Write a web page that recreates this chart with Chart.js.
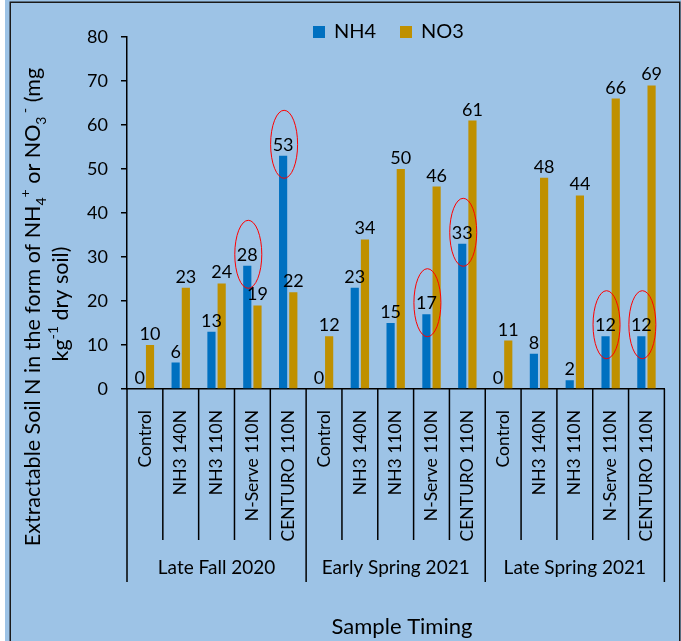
<!DOCTYPE html>
<html>
<head>
<meta charset="utf-8">
<script src="https://cdn.jsdelivr.net/npm/chart.js"></script>
<style>
  html, body { margin: 0; padding: 0; background: #ffffff; }
  canvas { display: block; }
</style>
</head>
<body>
<canvas id="chart" width="681" height="641"></canvas>
<script>
// Treatments repeated within each sampling time
const treatments = ['Control', 'NH3 140N', 'NH3 110N', 'N-Serve 110N', 'CENTURO 110N'];
const timings = ['Late Fall 2020', 'Early Spring 2021', 'Late Spring 2021'];

// Extractable soil N (mg kg-1 dry soil)
const nh4 = [0, 6, 13, 28, 53, 0, 23, 15, 17, 33, 0, 8, 2, 12, 12];
const no3 = [10, 23, 24, 19, 22, 12, 34, 50, 46, 61, 11, 48, 44, 66, 69];

// NH4 bars whose labels are ringed in red
const circledNh4 = [3, 4, 8, 9, 13, 14];

// Value axis ticks
const yTicks = [0, 10, 20, 30, 40, 50, 60, 70, 80];

const seriesNames = ['NH4', 'NO3'];
const seriesColors = ['#0070C0', '#BF9000'];

const FONT = 'Lato, "Open Sans", "DejaVu Sans", sans-serif';
const BG = '#9DC3E6';
const INK = '#000000';

const labels = timings.flatMap(() => treatments);

// Sheet background, white margin strip and outer frame
const frame = {
  id: 'frame',
  beforeDraw(chart) {
    const ctx = chart.ctx;
    ctx.save();
    ctx.fillStyle = BG;
    ctx.fillRect(0, 0, chart.width, chart.height);
    ctx.fillStyle = '#ffffff';
    ctx.fillRect(0, 0, 5, chart.height);
    ctx.strokeStyle = '#1a1a1a';
    ctx.lineWidth = 1.5;
    ctx.strokeRect(10.25, 2.25, 669.5, chart.height + 20);
    ctx.restore();
  }
};

// Draws a run of text with sub/superscript pieces, rotated for the value axis
function drawRich(ctx, parts, cx, cy, size) {
  const small = Math.round(size * 0.65);
  const widths = parts.map(([t, k]) => {
    ctx.font = (k ? small : size) + 'px ' + FONT;
    return ctx.measureText(t).width;
  });
  const total = widths.reduce((a, b) => a + b, 0);
  ctx.save();
  ctx.translate(cx, cy);
  ctx.rotate(-Math.PI / 2);
  ctx.textBaseline = 'alphabetic';
  ctx.textAlign = 'left';
  ctx.fillStyle = INK;
  let x = -total / 2;
  const base = size * 0.35;
  parts.forEach(([t, k], i) => {
    ctx.font = (k ? small : size) + 'px ' + FONT;
    let dy = 0;
    if (k === 'sub') dy = size * 0.3;
    if (k === 'sup') dy = -size * 0.45;
    ctx.fillText(t, x, base + dy);
    x += widths[i];
  });
  ctx.restore();
}

const decorations = {
  id: 'decorations',
  afterDraw(chart) {
    const ctx = chart.ctx;
    const xs = chart.scales.x;
    const n = labels.length;
    const step = (xs.right - xs.left) / n;
    const axisY = xs.top;

    ctx.save();
    // Category and group dividers below the axis
    ctx.strokeStyle = INK;
    ctx.lineWidth = 1.5;
    for (let i = 0; i <= n; i++) {
      const x = xs.left + i * step;
      const isGroup = i % treatments.length === 0;
      ctx.beginPath();
      ctx.moveTo(x, axisY);
      ctx.lineTo(x, isGroup ? 582 : 540);
      ctx.stroke();
    }

    // Group labels
    ctx.fillStyle = INK;
    ctx.font = '19px ' + FONT;
    ctx.textAlign = 'center';
    ctx.textBaseline = 'middle';
    timings.forEach((t, g) => {
      const a = xs.getPixelForValue(g * treatments.length);
      const b = xs.getPixelForValue(g * treatments.length + treatments.length - 1);
      ctx.fillText(t, (a + b) / 2, 568);
    });

    // Axis titles
    ctx.font = '22px ' + FONT;
    ctx.fillText('Sample Timing', 402, 627);
    drawRich(ctx, [
      ['Extractable Soil N in the form of NH', ''], ['4', 'sub'], ['+', 'sup'],
      [' or NO', ''], ['3', 'sub'], [' -', 'sup'], [' (mg', '']
    ], 32, 307, 21.5);
    drawRich(ctx, [['kg', ''], ['-1', 'sup'], [' dry soil)', '']], 60, 304, 21.5);

    // Legend
    ctx.font = '20px ' + FONT;
    ctx.textAlign = 'left';
    const legendX = [313, 400];
    seriesNames.forEach((name, i) => {
      ctx.fillStyle = seriesColors[i];
      ctx.fillRect(legendX[i], 26, 12, 12);
      ctx.fillStyle = INK;
      ctx.fillText(name, legendX[i] + 21, 32);
    });

    // Value labels above bars, with rings on the marked NH4 labels
    ctx.font = '18px ' + FONT;
    ctx.textAlign = 'center';
    ctx.textBaseline = 'alphabetic';
    chart.data.datasets.forEach((ds, di) => {
      const meta = chart.getDatasetMeta(di);
      meta.data.forEach((el, j) => {
        const ty = el.y - 5;
        ctx.fillStyle = INK;
        ctx.fillText(String(ds.data[j]), el.x, ty);
        if (di === 0 && circledNh4.includes(j)) {
          ctx.beginPath();
          ctx.ellipse(el.x + 1, ty - 6.5, 13.5, 34, 0, 0, Math.PI * 2);
          ctx.strokeStyle = '#FF0000';
          ctx.lineWidth = 1;
          ctx.stroke();
        }
      });
    });
    ctx.restore();
  }
};

new Chart(document.getElementById('chart'), {
  type: 'bar',
  data: {
    labels: labels,
    datasets: [
      { label: seriesNames[0], data: nh4, backgroundColor: seriesColors[0],
        barPercentage: 0.8, categoryPercentage: 0.57 },
      { label: seriesNames[1], data: no3, backgroundColor: seriesColors[1],
        barPercentage: 0.8, categoryPercentage: 0.57 }
    ]
  },
  options: {
    responsive: false,
    animation: false,
    events: [],
    layout: { padding: { top: 37, right: 16, left: 0, bottom: 0 } },
    plugins: {
      legend: { display: false },
      title: { display: false },
      tooltip: { enabled: false }
    },
    scales: {
      x: {
        grid: { display: false },
        border: { display: true, color: INK, width: 1.5 },
        ticks: {
          autoSkip: false, minRotation: 90, maxRotation: 90,
          color: INK, font: { family: FONT, size: 17.5 }, padding: 13
        },
        afterFit(scale) { scale.height = 252; }
      },
      y: {
        min: yTicks[0],
        max: yTicks[yTicks.length - 1],
        afterBuildTicks(scale) { scale.ticks = yTicks.map(v => ({ value: v })); },
        grid: { drawOnChartArea: false, drawTicks: true, tickLength: 6, color: INK, lineWidth: 1.5 },
        border: { display: true, color: INK, width: 1.5 },
        ticks: { color: INK, font: { family: FONT, size: 18 }, padding: 13 },
        afterFit(scale) { scale.width = 127; }
      }
    }
  },
  plugins: [frame, decorations]
});
</script>
</body>
</html>
